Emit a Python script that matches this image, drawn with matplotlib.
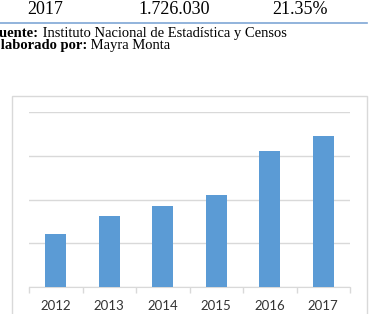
import matplotlib.pyplot as plt
from matplotlib.patches import Rectangle
import numpy as np

# Data
years = ["2012", "2013", "2014", "2015", "2016", "2017"]
values = [605000, 810000, 925000, 1050000, 1560000, 1726030]
grid_step = 500000
y_max = 2000000

table_row = ["2017", "1.726.030", "21.35%"]
source_label = "Fuente:"
source_text = " Instituto Nacional de Estadística y Censos"
author_label = "Elaborado por:"
author_text = " Mayra Monta"

W, H = 370, 314
fig = plt.figure(figsize=(W / 100, H / 100), dpi=100)

# Table row and notes above the chart
serif = "Liberation Serif"
for txt, x in zip(table_row, [45, 174, 300]):
    fig.text(x / W, 1 - 14 / H, txt, ha="center", va="baseline",
             fontsize=13, family=serif)
fig.add_artist(plt.Line2D([0, 367 / W], [1 - 23 / H, 1 - 23 / H],
                          color="#7fa7d6", lw=1.2))


def note(label, text, x0, y, size):
    t = fig.text(x0 / W, 1 - y / H, label, ha="left", va="baseline",
                 fontsize=size, family=serif, fontweight="bold")
    fig.canvas.draw()
    bb = t.get_window_extent()
    fig.text(bb.x1 / W, 1 - y / H, text, ha="left", va="baseline",
             fontsize=size, family=serif)


# the page is cropped, so the first letter of each note falls off the left edge
note(source_label, source_text, -9, 37, 10.5)
note(author_label, author_text, -9, 49.5, 10.5)

# Chart border
fig.add_artist(Rectangle((12 / W, -0.02), 355 / W, 0.02 + 218 / H,
                         transform=fig.transFigure, fill=False,
                         edgecolor="#d9d9d9", lw=1))

ax = fig.add_axes([29 / W, 27 / H, 321 / W, 175 / H])
x = np.arange(len(years))
ax.bar(x, values, width=0.4, color="#5b9bd5", zorder=3)

ax.set_xlim(-0.5, len(years) - 0.5)
ax.set_ylim(0, y_max)
ax.set_yticks(np.arange(0, y_max + 1, grid_step))
ax.yaxis.grid(True, color="#d9d9d9", lw=1, zorder=0)
ax.tick_params(axis="y", left=False, labelleft=False)

ax.set_xticks(np.arange(-0.5, len(years)), labels=[""] * (len(years) + 1))
ax.tick_params(axis="x", which="major", length=4, color="#d9d9d9", width=1)
ax.set_xticks(x, labels=years, minor=True)
ax.tick_params(axis="x", which="minor", length=0, pad=9,
               labelsize=9.5, labelcolor="#333333")
for lbl in ax.get_xticklabels(minor=True):
    lbl.set_family("Lato")

for side in ["top", "right", "left"]:
    ax.spines[side].set_visible(False)
ax.spines["bottom"].set_color("#d9d9d9")

fig.savefig("out.png", dpi=100)
